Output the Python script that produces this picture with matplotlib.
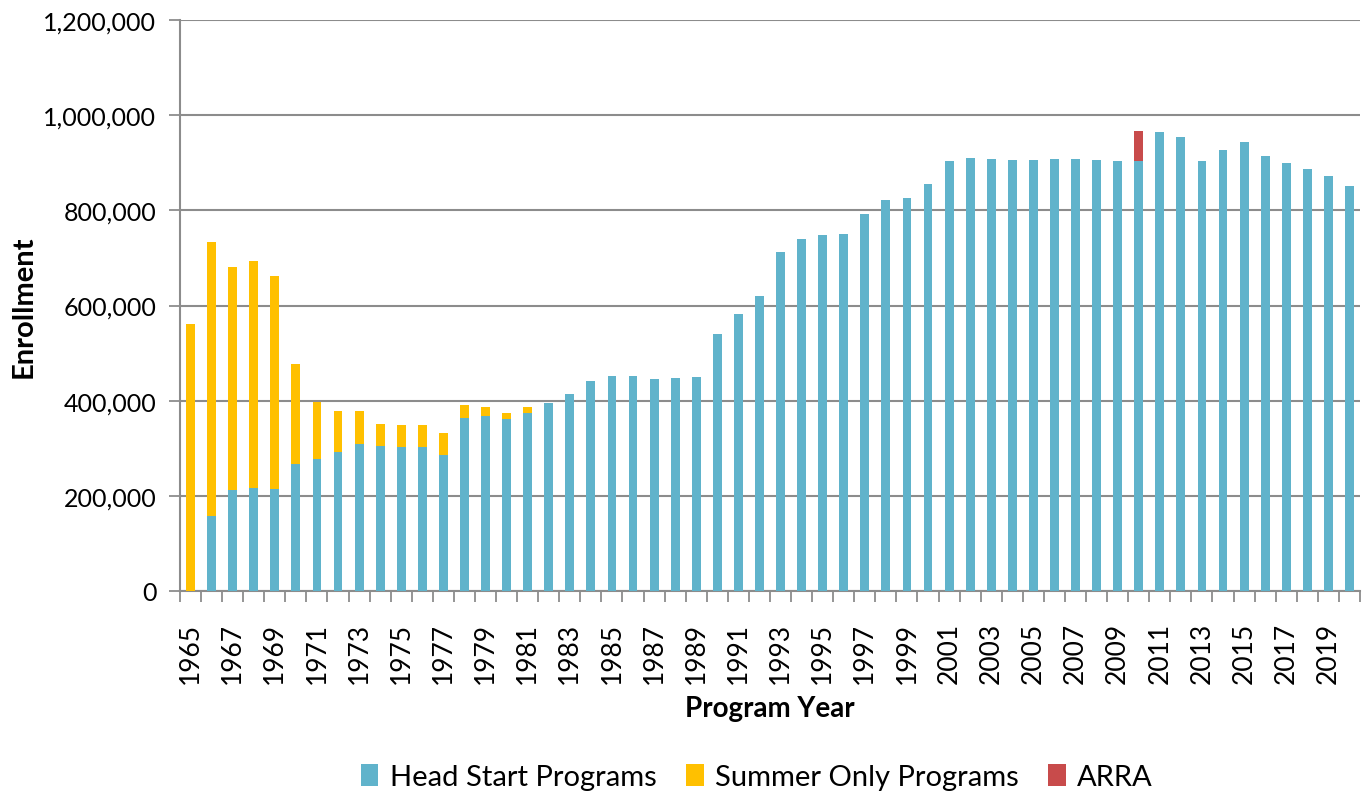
import matplotlib
matplotlib.use("Agg")

import matplotlib.pyplot as plt
import matplotlib.ticker as mticker
import numpy as np

plt.rcParams["font.family"] = ["Lato", "DejaVu Sans"]

###---------------------------data-----------------------------###
years = list(range(1965, 2021))

head_start = [
    0, 158000, 213000, 216000, 215000, 267000, 278000, 292000, 309000, 305000,
    302000, 302000, 286000, 364000, 368000, 362000, 374000, 395000, 414000, 441000,
    451000, 451000, 446000, 448000, 450000, 540000, 583000, 620000, 712000, 739000,
    749000, 751000, 793000, 821000, 825000, 856000, 904000, 911000, 908000, 905000,
    905000, 908000, 907000, 905000, 903000, 903000, 964000, 955000, 903000, 926000,
    943000, 915000, 899000, 886000, 872000, 851000,
]

summer_only = [
    561000, 575000, 468000, 478000, 448000, 210000, 119000, 86000, 69000, 47000,
    46000, 46000, 46000, 27000, 19000, 13000, 13000, 0, 0, 0,
    0, 0, 0, 0, 0, 0, 0, 0, 0, 0,
    0, 0, 0, 0, 0, 0, 0, 0, 0, 0,
    0, 0, 0, 0, 0, 0, 0, 0, 0, 0,
    0, 0, 0, 0, 0, 0,
]

arra = [0] * 56
arra[years.index(2010)] = 63000

###---------------------------colors---------------------------###
c_head = "#60B3CB"
c_summer = "#FFC000"
c_arra = "#C84B4B"
c_grid = "#8C8C8C"

###---------------------------figure---------------------------###
fig = plt.figure(figsize=(13.7, 8.04), dpi=100)
ax = fig.add_axes([180 / 1370, 212 / 804, 1180 / 1370, 571 / 804])

x = np.arange(len(years))
hs = np.array(head_start)
so = np.array(summer_only)
ar = np.array(arra)

w = 0.42
ax.bar(x, hs, width=w, color=c_head, edgecolor="none",
       label="Head Start Programs", zorder=3)
ax.bar(x, so, width=w, bottom=hs, color=c_summer, edgecolor="none",
       label="Summer Only Programs", zorder=3)
ax.bar(x, ar, width=w, bottom=hs + so, color=c_arra, edgecolor="none",
       label="ARRA", zorder=3)

###---------------------------axes-----------------------------###
ax.set_xlim(-0.5, len(years) - 0.5)
ax.set_ylim(0, 1200000)

ax.yaxis.set_major_locator(mticker.MultipleLocator(200000))
ax.yaxis.set_major_formatter(mticker.FuncFormatter(lambda v, p: f"{int(v):,}"))
ax.grid(axis="y", color=c_grid, linewidth=1.5, zorder=1)
ax.tick_params(axis="y", length=8, width=1.3, color=c_grid, labelsize=18, pad=9)

ax.set_xticks(x[::2])
ax.set_xticklabels([str(y) for y in years[::2]], rotation=90)
ax.set_xticks(np.arange(-0.5, len(years)), minor=True)
ax.tick_params(axis="x", which="major", length=0, labelsize=19, pad=22)
ax.tick_params(axis="x", which="minor", length=8, width=1.3, color=c_grid)

for side in ["top", "right"]:
    ax.spines[side].set_visible(False)
for side in ["left", "bottom"]:
    ax.spines[side].set_color(c_grid)
    ax.spines[side].set_linewidth(1.5)

ax.set_ylabel("Enrollment", fontsize=21, fontweight="bold", labelpad=5)
ax.set_xlabel("Program Year", fontsize=20, fontweight="bold", labelpad=9)

###---------------------------legend---------------------------###
fig.legend(loc="center", bbox_to_anchor=(757 / 1370, 1 - 778 / 804), ncol=3,
           frameon=False, fontsize=21, handlelength=0.6, handleheight=0.8,
           handletextpad=0.4, columnspacing=1.0)

fig.savefig("out.png", dpi=100)
